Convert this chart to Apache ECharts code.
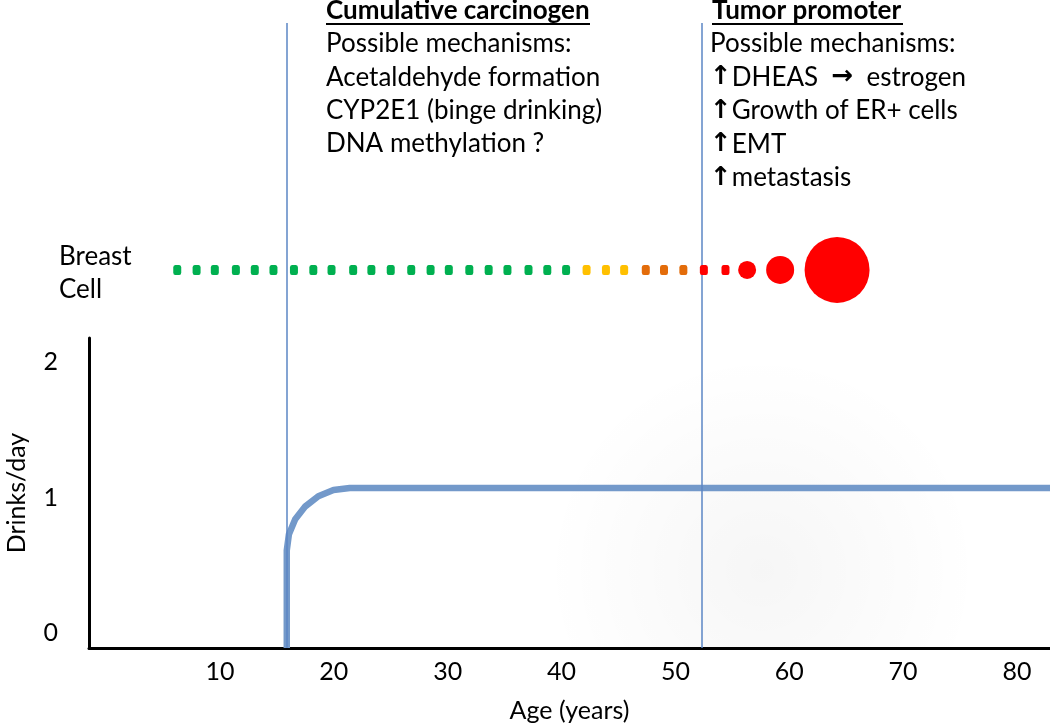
<!DOCTYPE html>
<html>
<head>
<meta charset="utf-8">
<script src="https://cdn.jsdelivr.net/npm/echarts@6/dist/echarts.min.js"></script>
<style>html,body{margin:0;padding:0;background:#fff;}#c{width:1050px;height:723px;}</style>
</head>
<body>
<div id="c"></div>
<script>
// ---- data ----
const xTickLabels = [10, 20, 30, 40, 50, 60, 70, 80];
const yTickLabels = [0, 1, 2];
// drinking curve (age in years, drinks/day)
const curveAge    = [15.87, 15.87, 16.06, 16.61, 17.50, 18.64, 19.97, 21.40, 82.9];
const curveDrinks = [-0.11, 0.61, 0.73, 0.84, 0.935, 1.01, 1.055, 1.07, 1.07];
// phase boundaries (age)
const phaseAges = [15.85, 52.3];
// breast cell states along age
const dotAges = [6.25, 7.95, 9.55, 11.4, 13.06, 14.7, 16.5, 18.2, 19.8, 21.7, 23.3, 25.0, 26.8, 28.5, 30.1, 31.9, 33.6, 35.25, 37.1, 38.75, 40.4,
                 42.2, 43.9, 45.5,
                 47.4, 49.0, 50.7,
                 52.5, 54.4,
                 56.3, 59.2, 64.2];
const dotStages = ['normal','normal','normal','normal','normal','normal','normal','normal','normal','normal','normal','normal','normal','normal','normal','normal','normal','normal','normal','normal','normal',
                   'early','early','early',
                   'mid','mid','mid',
                   'late','late',
                   'tumor1','tumor2','tumor3'];
const cumulativeTitle = 'Cumulative carcinogen';
const cumulativeLines = ['Possible mechanisms:', 'Acetaldehyde formation', 'CYP2E1 (binge drinking)', 'DNA methylation ?'];
const promoterTitle = 'Tumor promoter';
const promoterLines = ['Possible mechanisms:', '{a|\u2191}DHEAS  {a|\u2192}  estrogen', '{a|\u2191}Growth of ER+ cells', '{a|\u2191}EMT', '{a|\u2191}metastasis'];
const cellLabel = ['Breast', 'Cell'];

// ---- styles ----
const stageStyle = {
  normal: {color: '#00B050', symbol: 'roundRect', size: [8, 10]},
  early:  {color: '#FFC000', symbol: 'roundRect', size: [8, 10]},
  mid:    {color: '#E36C0A', symbol: 'roundRect', size: [8, 10]},
  late:   {color: '#FF0000', symbol: 'roundRect', size: [8, 10]},
  tumor1: {color: '#FF0000', symbol: 'circle', size: [18, 18]},
  tumor2: {color: '#FF0000', symbol: 'circle', size: [28, 28]},
  tumor3: {color: '#FF0000', symbol: 'circle', size: [65, 66]}
};
const FONT = 'Lato, "DejaVu Sans", sans-serif';
const FS = 26;
const ROW_Y = 0.605; // row of cells in overlay grid

const chart = echarts.init(document.getElementById('c'), null, {renderer: 'canvas'});

const graphics = [];
graphics.push({
  type: 'rect', z: -10, silent: true,
  shape: {x: 90, y: 338, width: 960, height: 310},
  style: {fill: new echarts.graphic.RadialGradient(0.7, 0.75, 0.7, [
    {offset: 0, color: 'rgba(0,0,0,0.035)'},
    {offset: 1, color: 'rgba(0,0,0,0)'}
  ])}
});
function addText(txt, x, y, bold) {
  graphics.push({type: 'text', x: x, y: y, style: {
    text: txt, font: (bold ? 'bold ' : '') + FS + 'px ' + FONT, fill: '#000',
    textAlign: 'left', textVerticalAlign: 'middle',
    rich: {a: {font: 'bold ' + FS + 'px "DejaVu Sans", sans-serif', fill: '#000'}}}});
}
addText(cumulativeTitle, 326, 11, true);
graphics.push({type: 'line', shape: {x1: 326, y1: 24, x2: 590, y2: 24}, style: {stroke: '#000', lineWidth: 2}});
cumulativeLines.forEach((t, i) => addText(t, 326, 44 + 33.2 * i, false));
addText(promoterTitle, 712, 11, true);
graphics.push({type: 'line', shape: {x1: 712, y1: 24, x2: 903, y2: 24}, style: {stroke: '#000', lineWidth: 2}});
promoterLines.forEach((t, i) => addText(t, 710, 44 + 33.5 * i, false));
cellLabel.forEach((t, i) => addText(t, 59, 257 + 33 * i, false));

const option = {
  backgroundColor: '#fff',
  animation: false,
  grid: [
    {left: 89, right: 0, top: 338, bottom: 75, containLabel: false, outerBoundsMode: 'none'},
    {left: 89, right: 0, top: 23, bottom: 75, containLabel: false, outerBoundsMode: 'none'}
  ],
  xAxis: [
    {type: 'value', gridIndex: 0, min: -1.5, max: 82.9,
     axisLine: {show: true, onZero: false, lineStyle: {color: '#000', width: 3}},
     axisTick: {show: false}, splitLine: {show: false},
     axisLabel: {customValues: xTickLabels, color: '#000', fontSize: 25, fontFamily: FONT, margin: 11},
     name: 'Age (years)', nameLocation: 'middle', nameGap: 50,
     nameTextStyle: {color: '#000', fontSize: 25, fontFamily: FONT}},
    {type: 'value', gridIndex: 1, min: -1.5, max: 82.9, show: false}
  ],
  yAxis: [
    {type: 'value', gridIndex: 0, min: -0.11, max: 2.177,
     axisLine: {show: true, onZero: false, lineStyle: {color: '#000', width: 3}},
     axisTick: {show: false}, splitLine: {show: false},
     axisLabel: {customValues: yTickLabels, color: '#000', fontSize: 25, fontFamily: FONT, margin: 31},
     name: 'Drinks/day', nameLocation: 'middle', nameGap: 60, nameRotate: 90,
     nameTextStyle: {color: '#000', fontSize: 25, fontFamily: FONT}},
    {type: 'value', gridIndex: 1, min: 0, max: 1, show: false}
  ],
  graphic: graphics,
  series: [
    {type: 'line', xAxisIndex: 0, yAxisIndex: 0, z: 3,
     data: curveAge.map((a, i) => [a, curveDrinks[i]]),
     symbol: 'none', smooth: false,
     lineStyle: {color: '#7399CA', width: 6.5, join: 'round', cap: 'butt'}},
    {type: 'line', xAxisIndex: 1, yAxisIndex: 1, z: 4, data: [],
     markLine: {silent: true, symbol: ['none', 'none'], label: {show: false},
       lineStyle: {color: '#5B86C4', width: 1.5, type: 'solid'},
       data: phaseAges.map(a => ({xAxis: a}))}},
    {type: 'scatter', xAxisIndex: 1, yAxisIndex: 1, z: 5,
     data: dotAges.map((a, i) => {
       const s = stageStyle[dotStages[i]];
       return {value: [a, ROW_Y], symbol: s.symbol, symbolSize: s.size, itemStyle: {color: s.color, opacity: 1}};
     })}
  ]
};
chart.setOption(option);
</script>
</body>
</html>
